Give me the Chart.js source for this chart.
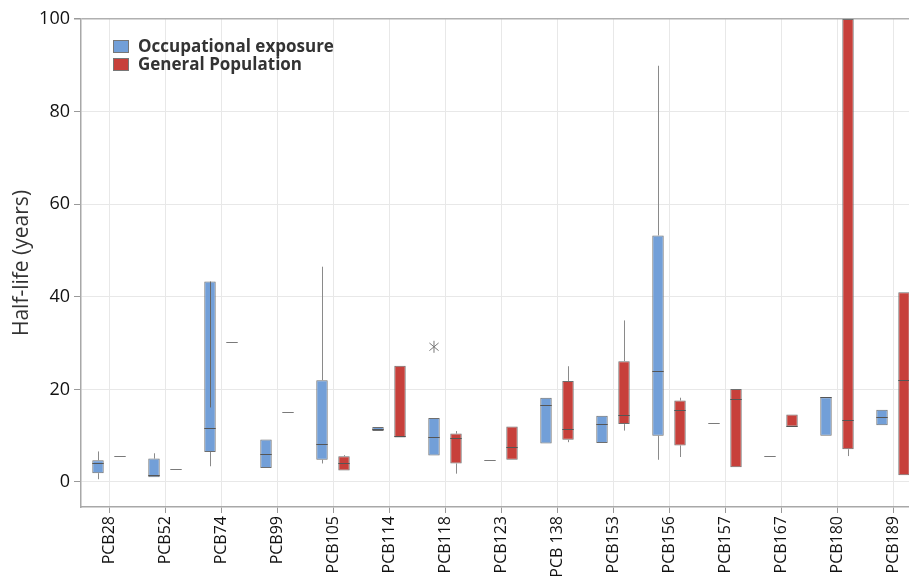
<!DOCTYPE html>
<html>
<head>
<meta charset="utf-8">
<script src="https://cdn.jsdelivr.net/npm/chart.js@4.4.1/dist/chart.umd.min.js"></script>
<style>
  html, body { margin: 0; padding: 0; background: #fff; overflow: hidden; }
  #wrap { width: 925px; height: 576px; }
</style>
</head>
<body>
<div id="wrap"><canvas id="box-chart"></canvas></div>
<script>
const categories = ['PCB28','PCB52','PCB74','PCB99','PCB105','PCB114','PCB118','PCB123','PCB 138','PCB153','PCB156','PCB157','PCB167','PCB180','PCB189'];
const yTicks = [0, 20, 40, 60, 80, 100];

// Occupational exposure (blue)
const occQ1     = [1.9, 1.0, 6.5, 3.0, 4.8, 11.0, 5.7, null, 8.3, 8.4, 10.0, null, null, 10.0, 12.25];
const occQ3     = [4.7, 5.05, 43.3, 9.2, 22.0, 11.9, 13.8, null, 18.2, 14.3, 53.25, null, null, 18.3, 15.6];
const occMedian = [4.2, 1.6, 11.6, 6.1, 8.1, 11.45, 9.8, 4.7, 16.7, 12.6, 23.9, 12.7, 5.6, 18.3, 14.0];
const occLow    = [0.6, null, 3.4, null, 4.0, null, null, null, null, null, 4.8, null, null, null, null];
const occHigh   = [6.6, 6.2, null, null, 46.5, null, null, null, null, null, 89.9, null, null, null, null];
const occInner  = [null, null, 16.1, null, null, null, null, null, null, null, null, null, null, null, null];
const occOutlier = [null, null, null, null, null, null, 29.2, null, null, null, null, null, null, null, null];

// General Population (red)
const genQ1     = [null, null, null, null, 2.5, 9.6, 4.0, 4.8, 9.1, 12.5, 7.9, 3.2, 12.0, 7.07, 1.45];
const genQ3     = [null, null, null, null, 5.55, 25.1, 10.45, 12.0, 21.8, 26.1, 17.6, 20.1, 14.6, 100, 41.0];
const genMedian = [5.7, 2.7, 30.2, 15.1, 4.1, 10.0, 9.4, 7.6, 11.5, 14.4, 15.6, 18.0, 12.0, 13.3, 22.1];
const genLow    = [null, null, null, null, null, null, 1.8, null, 8.6, 11.1, 5.4, null, null, 5.6, null];
const genHigh   = [null, null, null, null, 5.8, null, 11.0, null, 25.0, 34.9, 18.2, null, null, null, null];

const blue = 'rgb(114,159,216)';
const red = 'rgb(199,64,59)';

const series = [
    {label: 'Occupational exposure', color: blue, q1: occQ1, q3: occQ3, med: occMedian, low: occLow, high: occHigh, inner: occInner, out: occOutlier},
    {label: 'General Population', color: red, q1: genQ1, q3: genQ3, med: genMedian, low: genLow, high: genHigh, inner: null, out: null}
];

// whiskers, medians, outliers and the legend
const boxExtras = {
    id: 'boxExtras',
    afterDatasetsDraw(chart) {
        const ctx = chart.ctx;
        const y = chart.scales.y;
        const area = chart.chartArea;
        ctx.save();
        ctx.beginPath();
        ctx.rect(area.left, area.top, area.right - area.left, area.bottom - area.top);
        ctx.clip();
        series.forEach((s, d) => {
            const meta = chart.getDatasetMeta(d);
            categories.forEach((c, i) => {
                const bar = meta.data[i];
                const x = bar.x;
                const w = bar.width;
                const cx = Math.round(x) + 0.5;
                ctx.lineWidth = 1;
                ctx.strokeStyle = '#8a8a8a';
                if (s.high[i] != null) {
                    ctx.beginPath();
                    ctx.moveTo(cx, y.getPixelForValue(s.q3[i] != null ? s.q3[i] : s.med[i]));
                    ctx.lineTo(cx, y.getPixelForValue(s.high[i]));
                    ctx.stroke();
                }
                if (s.low[i] != null) {
                    ctx.beginPath();
                    ctx.moveTo(cx, y.getPixelForValue(s.q1[i] != null ? s.q1[i] : s.med[i]));
                    ctx.lineTo(cx, y.getPixelForValue(s.low[i]));
                    ctx.stroke();
                }
                if (s.inner && s.inner[i] != null) {
                    ctx.strokeStyle = '#666';
                    ctx.beginPath();
                    ctx.moveTo(cx, y.getPixelForValue(s.q3[i]));
                    ctx.lineTo(cx, y.getPixelForValue(s.inner[i]));
                    ctx.stroke();
                }
                if (s.med[i] != null) {
                    const py = Math.round(y.getPixelForValue(s.med[i])) + 0.5;
                    ctx.strokeStyle = s.q1[i] == null ? '#7a7a7a' : '#555';
                    ctx.beginPath();
                    ctx.moveTo(x - w / 2, py);
                    ctx.lineTo(x + w / 2, py);
                    ctx.stroke();
                }
                if (s.out && s.out[i] != null) {
                    const py = y.getPixelForValue(s.out[i]);
                    const r = 6;
                    ctx.strokeStyle = '#777';
                    ctx.beginPath();
                    ctx.moveTo(x, py - r); ctx.lineTo(x, py + r);
                    ctx.moveTo(x - r * 0.77, py - r * 0.64); ctx.lineTo(x + r * 0.77, py + r * 0.64);
                    ctx.moveTo(x - r * 0.77, py + r * 0.64); ctx.lineTo(x + r * 0.77, py - r * 0.64);
                    ctx.stroke();
                }
            });
        });
        ctx.restore();

        // legend
        ctx.save();
        ctx.font = 'bold 17px "Open Sans"';
        ctx.textBaseline = 'middle';
        series.forEach((s, d) => {
            const bx = area.left + 32;
            const by = area.top + 21 + d * 18;
            ctx.fillStyle = s.color;
            ctx.fillRect(bx, by, 16, 13);
            ctx.strokeStyle = '#777';
            ctx.lineWidth = 1;
            ctx.strokeRect(bx + 0.5, by + 0.5, 15, 12);
            ctx.fillStyle = '#333';
            ctx.fillText(s.label, bx + 25, by + 7);
        });
        ctx.restore();
    }
};

new Chart(document.getElementById('box-chart').getContext('2d'), {
    type: 'bar',
    data: {
        labels: categories,
        datasets: series.map(s => ({
            label: s.label,
            data: s.q1.map((v, i) => (v == null ? null : [v, s.q3[i]])),
            backgroundColor: s.color,
            borderColor: '#6e6e6e',
            borderWidth: 1,
            borderSkipped: false,
            categoryPercentage: 0.786,
            barPercentage: 0.52
        }))
    },
    options: {
        responsive: true,
        maintainAspectRatio: false,
        animation: false,
        layout: { padding: { top: 19, right: 4, left: 0, bottom: 0 } },
        plugins: { legend: { display: false }, tooltip: { enabled: false } },
        scales: {
            x: {
                grid: { offset: false, color: '#e8e8e8', tickColor: '#999', tickLength: 6 },
                border: { color: '#a8a8a8', width: 1.5 },
                ticks: { minRotation: 90, maxRotation: 90, padding: 3, color: '#111', font: { family: 'Open Sans', size: 16 } },
                afterFit(scale) { scale.height = 69; }
            },
            y: {
                min: -5.4,
                max: 100,
                afterBuildTicks(scale) { scale.ticks = yTicks.map(v => ({ value: v })); },
                grid: {
                    color: ctx => (ctx.tick && ctx.tick.value === 100 ? '#b0b0b0' : '#e8e8e8'),
                    lineWidth: ctx => (ctx.tick && ctx.tick.value === 100 ? 1.5 : 1),
                    tickColor: '#999',
                    tickLength: 7
                },
                border: { color: '#a8a8a8', width: 1.5 },
                ticks: { padding: 4, color: '#111', font: { family: 'Open Sans', size: 18 } },
                title: { display: true, text: 'Half-life (years)', color: '#333', font: { family: 'Open Sans', size: 21 }, padding: { top: 9, bottom: 0 } },
                afterFit(scale) { scale.width = 81; }
            }
        }
    },
    plugins: [boxExtras]
});
</script>
</body>
</html>
